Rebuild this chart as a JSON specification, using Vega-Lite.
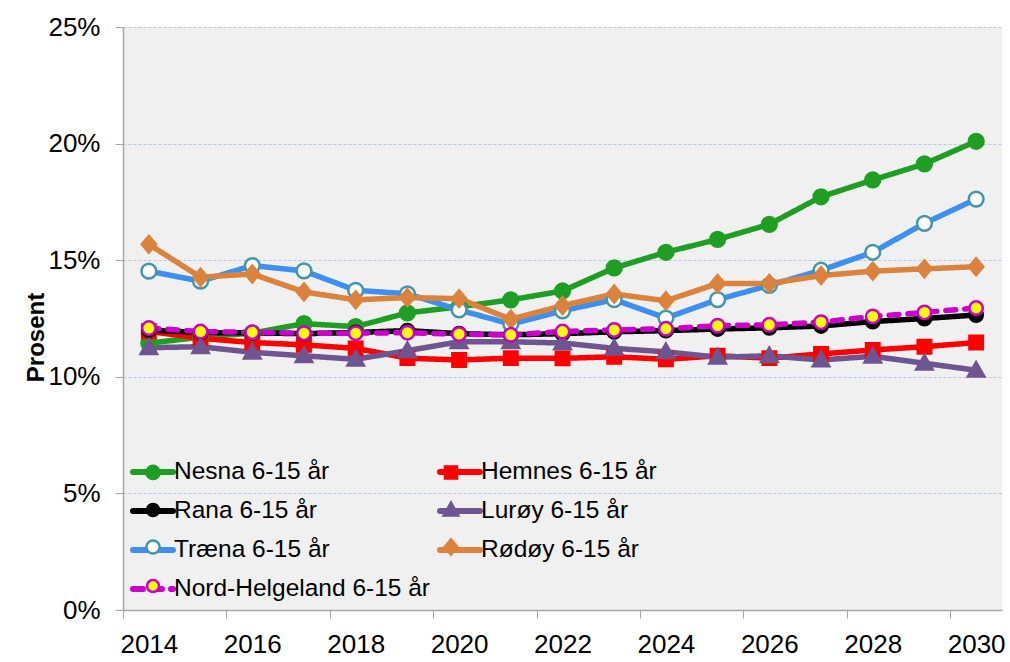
{
  "$schema": "https://vega.github.io/schema/vega-lite/v6.json",
  "width": 879,
  "height": 583,
  "autosize": "none",
  "padding": {"left": 123, "top": 27, "right": 8, "bottom": 52},
  "background": "white",
  "config": {"view": {"fill": "#f0f0f0", "stroke": null}, "font": "Liberation Sans"},
  "data": {"values": [
    {"year": 2014, "Nesna 6-15 år": 11.44, "Hemnes 6-15 år": 11.95, "Rana 6-15 år": 12.0, "Lurøy 6-15 år": 11.25, "Træna 6-15 år": 14.53, "Rødøy 6-15 år": 15.68, "Nord-Helgeland 6-15 år": 12.09},
    {"year": 2015, "Nesna 6-15 år": 11.7, "Hemnes 6-15 år": 11.65, "Rana 6-15 år": 11.9, "Lurøy 6-15 år": 11.29, "Træna 6-15 år": 14.1, "Rødøy 6-15 år": 14.27, "Nord-Helgeland 6-15 år": 11.94},
    {"year": 2016, "Nesna 6-15 år": 11.87, "Hemnes 6-15 år": 11.47, "Rana 6-15 år": 11.88, "Lurøy 6-15 år": 11.05, "Træna 6-15 år": 14.77, "Rødøy 6-15 år": 14.41, "Nord-Helgeland 6-15 år": 11.91},
    {"year": 2017, "Nesna 6-15 år": 12.28, "Hemnes 6-15 år": 11.37, "Rana 6-15 år": 11.85, "Lurøy 6-15 år": 10.9, "Træna 6-15 år": 14.54, "Rødøy 6-15 år": 13.64, "Nord-Helgeland 6-15 år": 11.87},
    {"year": 2018, "Nesna 6-15 år": 12.15, "Hemnes 6-15 år": 11.22, "Rana 6-15 år": 11.9, "Lurøy 6-15 år": 10.75, "Træna 6-15 år": 13.71, "Rødøy 6-15 år": 13.3, "Nord-Helgeland 6-15 år": 11.87},
    {"year": 2019, "Nesna 6-15 år": 12.74, "Hemnes 6-15 år": 10.8, "Rana 6-15 år": 11.98, "Lurøy 6-15 år": 11.12, "Træna 6-15 år": 13.56, "Rødøy 6-15 år": 13.4, "Nord-Helgeland 6-15 år": 11.89},
    {"year": 2020, "Nesna 6-15 år": 13.0, "Hemnes 6-15 år": 10.72, "Rana 6-15 år": 11.85, "Lurøy 6-15 år": 11.5, "Træna 6-15 år": 12.87, "Rødøy 6-15 år": 13.35, "Nord-Helgeland 6-15 år": 11.83},
    {"year": 2021, "Nesna 6-15 år": 13.3, "Hemnes 6-15 år": 10.8, "Rana 6-15 år": 11.8, "Lurøy 6-15 år": 11.5, "Træna 6-15 år": 12.26, "Rødøy 6-15 år": 12.47, "Nord-Helgeland 6-15 år": 11.8},
    {"year": 2022, "Nesna 6-15 år": 13.68, "Hemnes 6-15 år": 10.79, "Rana 6-15 år": 11.85, "Lurøy 6-15 år": 11.45, "Træna 6-15 år": 12.83, "Rødøy 6-15 år": 13.05, "Nord-Helgeland 6-15 år": 11.94},
    {"year": 2023, "Nesna 6-15 år": 14.67, "Hemnes 6-15 år": 10.86, "Rana 6-15 år": 11.93, "Lurøy 6-15 år": 11.22, "Træna 6-15 år": 13.31, "Rødøy 6-15 år": 13.55, "Nord-Helgeland 6-15 år": 12.01},
    {"year": 2024, "Nesna 6-15 år": 15.34, "Hemnes 6-15 år": 10.75, "Rana 6-15 år": 11.98, "Lurøy 6-15 år": 11.07, "Træna 6-15 år": 12.52, "Rødøy 6-15 år": 13.26, "Nord-Helgeland 6-15 år": 12.06},
    {"year": 2025, "Nesna 6-15 år": 15.89, "Hemnes 6-15 år": 10.9, "Rana 6-15 år": 12.05, "Lurøy 6-15 år": 10.84, "Træna 6-15 år": 13.31, "Rødøy 6-15 år": 14.0, "Nord-Helgeland 6-15 år": 12.19},
    {"year": 2026, "Nesna 6-15 år": 16.54, "Hemnes 6-15 år": 10.8, "Rana 6-15 år": 12.1, "Lurøy 6-15 år": 10.9, "Træna 6-15 år": 13.92, "Rødøy 6-15 år": 14.0, "Nord-Helgeland 6-15 år": 12.23},
    {"year": 2027, "Nesna 6-15 år": 17.72, "Hemnes 6-15 år": 10.98, "Rana 6-15 år": 12.18, "Lurøy 6-15 år": 10.72, "Træna 6-15 år": 14.57, "Rødøy 6-15 år": 14.34, "Nord-Helgeland 6-15 år": 12.34},
    {"year": 2028, "Nesna 6-15 år": 18.44, "Hemnes 6-15 år": 11.15, "Rana 6-15 år": 12.37, "Lurøy 6-15 år": 10.88, "Træna 6-15 år": 15.34, "Rødøy 6-15 år": 14.53, "Nord-Helgeland 6-15 år": 12.59},
    {"year": 2029, "Nesna 6-15 år": 19.13, "Hemnes 6-15 år": 11.29, "Rana 6-15 år": 12.5, "Lurøy 6-15 år": 10.58, "Træna 6-15 år": 16.58, "Rødøy 6-15 år": 14.63, "Nord-Helgeland 6-15 år": 12.76},
    {"year": 2030, "Nesna 6-15 år": 20.1, "Hemnes 6-15 år": 11.47, "Rana 6-15 år": 12.65, "Lurøy 6-15 år": 10.28, "Træna 6-15 år": 17.62, "Rødøy 6-15 år": 14.72, "Nord-Helgeland 6-15 år": 12.95}
  ]},
  "transform": [
    {"fold": ["Nesna 6-15 år", "Hemnes 6-15 år", "Rana 6-15 år", "Lurøy 6-15 år", "Træna 6-15 år", "Rødøy 6-15 år", "Nord-Helgeland 6-15 år"], "as": ["series", "value"]}
  ],
  "encoding": {
    "y": {
      "field": "value", "type": "quantitative",
      "scale": {"domain": [0, 25], "nice": false},
      "axis": {
        "values": [0, 5, 10, 15, 20, 25],
        "labelExpr": "datum.value + '%'",
        "labelFontSize": 26, "labelColor": "black", "labelPadding": 15,
        "tickSize": 8, "tickColor": "#a6a6a6",
        "domainColor": "#a6a6a6", "domainWidth": 1.5,
        "grid": true, "gridColor": "#b4c7e7", "gridDash": [3, 2], "gridWidth": 1,
        "title": "Prosent", "titleFontSize": 24, "titleFontWeight": "bold", "titleColor": "black",
        "titleX": -87, "titleY": 310, "titleBaseline": "middle", "titleAlign": "center", "titleAngle": 270
      }
    }
  },
  "layer": [
    {
      "mark": {"type": "line", "strokeWidth": 5.5, "strokeJoin": "round", "strokeCap": "round"},
      "encoding": {
        "x": {
          "field": "year", "type": "quantitative",
          "scale": {"domain": [2013.5, 2030.5], "nice": false, "zero": false},
          "axis": {
            "orient": "bottom", "values": [2014, 2016, 2018, 2020, 2022, 2024, 2026, 2028, 2030],
            "format": "d", "ticks": false, "tickSize": 0, "domain": false, "grid": false,
            "labelFontSize": 26, "labelColor": "black", "labelPadding": 21,
            "labelFlush": false, "labelOverlap": false, "title": null
          }
        },
        "color": {
          "field": "series", "type": "nominal",
          "scale": {
            "domain": ["Nesna 6-15 år", "Hemnes 6-15 år", "Rana 6-15 år", "Lurøy 6-15 år", "Træna 6-15 år", "Rødøy 6-15 år", "Nord-Helgeland 6-15 år"],
            "range": ["#1f9e24", "#ff0000", "#000000", "#6f5590", "#3d8ff0", "#db823c", "#cc00cc"]
          },
          "legend": {
            "orient": "none", "legendX": 7, "legendY": 422, "columns": 2, "direction": "horizontal",
            "symbolType": "stroke", "symbolSize": 1600, "symbolStrokeWidth": 6,
            "labelFontSize": 24.5, "labelFont": "Liberation Sans", "labelColor": "black", "labelOffset": -2, "labelLimit": 400,
            "rowPadding": 4, "columnPadding": -3, "title": null, "padding": 0, "zindex": 1,
            "encode": {"symbols": {"update": {"strokeCap": {"value": "round"}}}}
          }
        },
        "strokeDash": {
          "field": "series", "type": "nominal",
          "scale": {
            "domain": ["Nesna 6-15 år", "Hemnes 6-15 år", "Rana 6-15 år", "Lurøy 6-15 år", "Træna 6-15 år", "Rødøy 6-15 år", "Nord-Helgeland 6-15 år"],
            "range": [[1, 0], [1, 0], [1, 0], [1, 0], [1, 0], [1, 0], [10, 9]]
          }
        }
      }
    },
    {
      "mark": {"type": "point", "size": 2000, "strokeWidth": 2.5, "opacity": 1, "fillOpacity": 1, "strokeOpacity": 1},
      "encoding": {
        "x": {
          "field": "year", "type": "quantitative",
          "scale": {"domain": [2013.5, 2030.5], "nice": false, "zero": false},
          "axis": {
            "orient": "bottom", "values": [2013.5, 2015.5, 2017.5, 2019.5, 2021.5, 2023.5, 2025.5, 2027.5, 2029.5],
            "labels": false, "ticks": true, "tickSize": 8, "tickColor": "#a6a6a6",
            "domain": true, "domainColor": "#a6a6a6", "domainWidth": 1.5, "grid": false, "title": null
          }
        },
        "fill": {
          "field": "series", "type": "nominal",
          "scale": {
            "domain": ["Nesna 6-15 år", "Hemnes 6-15 år", "Rana 6-15 år", "Lurøy 6-15 år", "Træna 6-15 år", "Rødøy 6-15 år", "Nord-Helgeland 6-15 år", "~"],
            "range": ["#1f9e24", "#ff0000", "#000000", "#6f5590", "#ffffff", "#db823c", "#ffff00", "transparent"]
          },
          "legend": {
            "orient": "none", "legendX": 8.5, "legendY": 423.5, "columns": 2, "direction": "horizontal",
            "symbolSize": 1600, "symbolStrokeWidth": 2.5,
            "labelFontSize": 24.5, "labelFont": "Liberation Sans", "labelColor": "black", "labelOffset": -2, "labelLimit": 400, "labelOpacity": 0,
            "rowPadding": 4, "columnPadding": 0, "title": null, "padding": 0, "zindex": 2
          }
        },
        "stroke": {
          "field": "series", "type": "nominal",
          "scale": {
            "domain": ["Nesna 6-15 år", "Hemnes 6-15 år", "Rana 6-15 år", "Lurøy 6-15 år", "Træna 6-15 år", "Rødøy 6-15 år", "Nord-Helgeland 6-15 år", "~"],
            "range": ["#1f9e24", "#ff0000", "#000000", "#6f5590", "#4496aa", "#db823c", "#cc00cc", "transparent"]
          },
          "legend": {
            "orient": "none", "legendX": 8.5, "legendY": 423.5, "columns": 2, "direction": "horizontal",
            "symbolSize": 1600, "symbolStrokeWidth": 2.5,
            "labelFontSize": 24.5, "labelFont": "Liberation Sans", "labelColor": "black", "labelOffset": -2, "labelLimit": 400, "labelOpacity": 0,
            "rowPadding": 4, "columnPadding": 0, "title": null, "padding": 0, "zindex": 2
          }
        },
        "shape": {
          "field": "series", "type": "nominal",
          "scale": {
            "domain": ["Nesna 6-15 år", "Hemnes 6-15 år", "Rana 6-15 år", "Lurøy 6-15 år", "Træna 6-15 år", "Rødøy 6-15 år", "Nord-Helgeland 6-15 år", "~"],
            "range": [
              "M-0.33,0A0.33,0.33,0,1,1,0.33,0A0.33,0.33,0,1,1,-0.33,0Z",
              "M-0.3,-0.3H0.3V0.3H-0.3Z",
              "M-0.3,0A0.3,0.3,0,1,1,0.3,0A0.3,0.3,0,1,1,-0.3,0Z",
              "M0,-0.37L0.37,0.28L-0.37,0.28Z",
              "M-0.33,0A0.33,0.33,0,1,1,0.33,0A0.33,0.33,0,1,1,-0.33,0Z",
              "M0,-0.38L0.32,0L0,0.38L-0.32,0Z",
              "M-0.3,0A0.3,0.3,0,1,1,0.3,0A0.3,0.3,0,1,1,-0.3,0Z",
              "M0,0Z"
            ]
          },
          "legend": {
            "orient": "none", "legendX": 8.5, "legendY": 423.5, "columns": 2, "direction": "horizontal",
            "symbolSize": 1600, "symbolStrokeWidth": 2.5,
            "labelFontSize": 24.5, "labelFont": "Liberation Sans", "labelColor": "black", "labelOffset": -2, "labelLimit": 400, "labelOpacity": 0,
            "rowPadding": 4, "columnPadding": 0, "title": null, "padding": 0, "zindex": 2
          }
        }
      }
    }
  ],
  "resolve": {"axis": {"x": "independent"}}
}
